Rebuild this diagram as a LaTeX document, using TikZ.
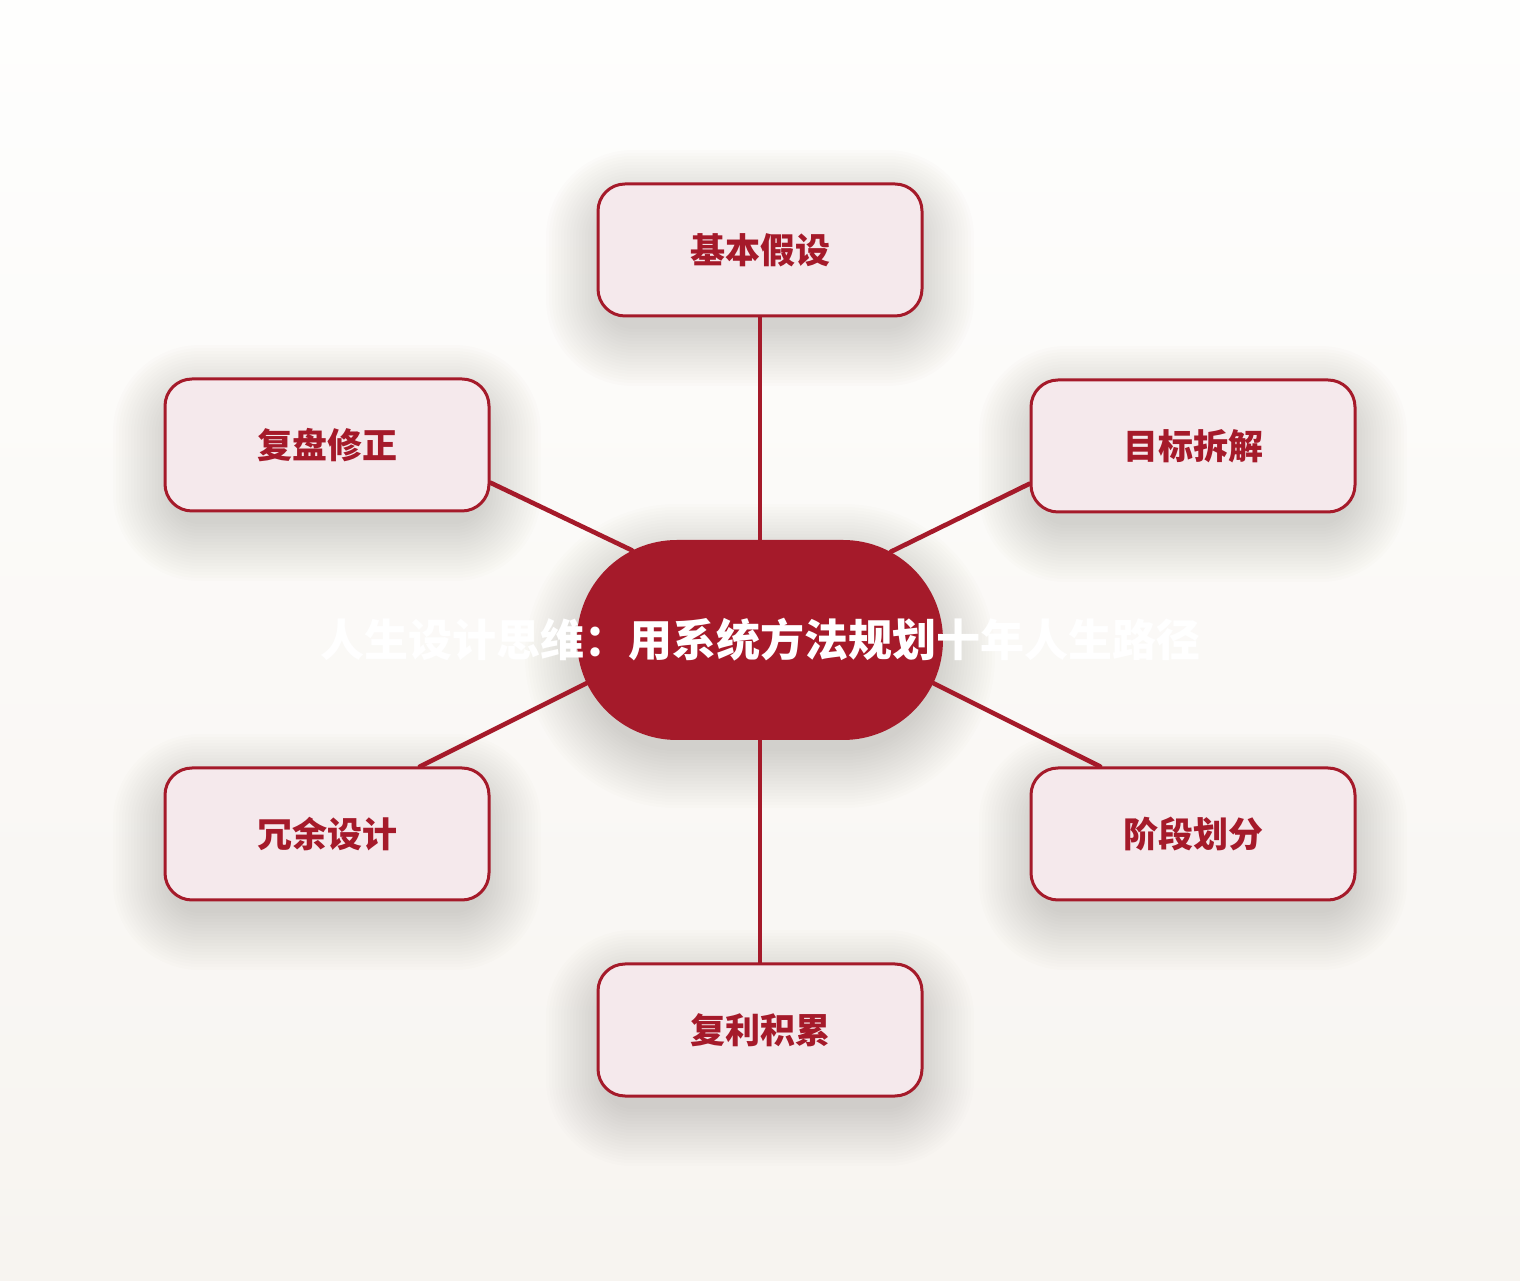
\documentclass[tikz,border=0pt]{standalone}
\usepackage{fontspec}
\setmainfont{Noto Sans CJK SC}
\usetikzlibrary{shapes.misc}
\definecolor{crimson}{HTML}{A51A2A}
\definecolor{pinkfill}{HTML}{F5E9EC}
\definecolor{bgtop}{HTML}{FEFEFD}
\definecolor{bgbot}{HTML}{F7F4F0}
\definecolor{shadowc}{HTML}{5A5048}
\pgfdeclarelayer{bglayer}
\pgfdeclarelayer{shadowlayer}
\pgfdeclarelayer{linelayer}
\pgfsetlayers{bglayer,shadowlayer,linelayer,main}
\tikzset{
  satshape/.style={rectangle, rounded corners=13.5pt, minimum width=162pt, minimum height=66pt, inner sep=0pt},
  satbox/.style={satshape, draw=crimson, line width=1.5pt, fill=pinkfill, text=crimson, font=\fontsize{17.5pt}{20pt}\selectfont\bfseries},
  hubshape/.style={rounded rectangle, minimum width=183pt, minimum height=100pt, inner sep=0pt},
  hubbox/.style={hubshape, fill=crimson},
  hubtext/.style={text=white, font=\fontsize{22pt}{26pt}\selectfont\bfseries, inner sep=0pt},
  link/.style={draw=crimson, line width=2.3pt, line cap=round},
  shadowpiece/.style={fill=shadowc, fill opacity=0.012, draw=none, inner sep=0pt}
}
\begin{document}
\begin{tikzpicture}[x=0.5pt,y=0.5pt]
\useasboundingbox (0,0) rectangle (1520,1280);
\begin{pgfonlayer}{bglayer}
  \shade[top color=bgtop, bottom color=bgbot] (0,0) rectangle (1520,1280);
\end{pgfonlayer}

\begin{pgfonlayer}{shadowlayer}
  \foreach \i in {1,...,20} {
    \node[shadowpiece, rounded rectangle, minimum width=183pt+3*\i pt-8pt, minimum height=100pt+3*\i pt-8pt] at (760,624) {};
    \foreach \p in {(760,1012),(1193,816),(1193,428),(760,232),(327,428),(327,817)} {
      \node[shadowpiece, rectangle, rounded corners=13.5pt+1.5*\i pt, minimum width=162pt+3*\i pt-8pt, minimum height=66pt+3*\i pt-8pt] at \p {};
    }
  }
\end{pgfonlayer}

\node[hubbox] (c) at (760,640) {};
\node[hubtext] (ctitle) at (c.center) {人生设计思维：用系统方法规划十年人生路径};

\node[satbox] (top) at (760,1030) {基本假设};
\node[satbox] (goal) at (1193,834) {目标拆解};
\node[satbox] (stage) at (1193,446) {阶段划分};
\node[satbox] (bottom) at (760,250) {复利积累};
\node[satbox] (redund) at (327,446) {冗余设计};
\node[satbox] (review) at (327,835) {复盘修正};

\begin{pgfonlayer}{linelayer}
  \draw[link] (c.north) -- (top.south);
  \draw[link] (c.34.7) -- (goal.193.5);
  \draw[link] (c.-14.7) -- (stage.144.2);
  \draw[link] (c.south) -- (bottom.north);
  \draw[link] (c.194.4) -- (redund.36.4);
  \draw[link] (c.145.6) -- (review.-13.5);
\end{pgfonlayer}
\end{tikzpicture}
\end{document}
